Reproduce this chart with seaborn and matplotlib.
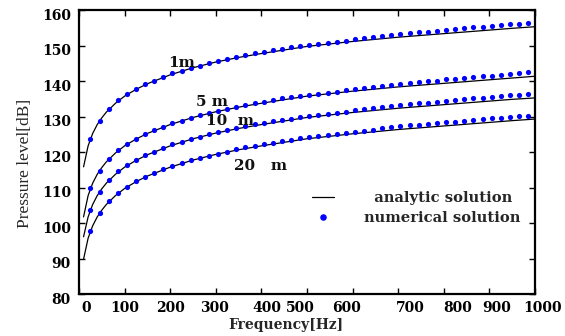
import numpy as np
import pandas as pd
import matplotlib
matplotlib.use("Agg")
import matplotlib.pyplot as plt
from matplotlib.lines import Line2D
from matplotlib.transforms import offset_copy
import seaborn as sns

# ---- data ----
freq_dots = list(range(25, 1000, 20))  # 25, 45, ..., 985
num_1m = [123.7, 128.8, 132.2, 134.6, 136.3, 137.8, 139.1, 140.2, 141.2, 142.2, 142.9, 143.7, 144.4, 145.0,
          145.6, 146.2, 146.9, 147.4, 147.9, 148.2, 148.7, 149.2, 149.5, 149.9, 150.2, 150.5, 150.8, 151.1,
          151.4, 151.8, 152.1, 152.4, 152.7, 153.0, 153.3, 153.6, 153.8, 154.0, 154.2, 154.5, 154.6, 154.9,
          155.2, 155.4, 155.6, 155.7, 156.0, 156.2, 156.5]
num_5m = [109.8, 114.8, 118.2, 120.5, 122.3, 123.8, 125.1, 126.2, 127.2, 128.2, 128.9, 129.7, 130.4, 131.0,
          131.6, 132.2, 132.8, 133.4, 133.9, 134.2, 134.7, 135.2, 135.5, 135.9, 136.2, 136.5, 136.8, 137.1,
          137.4, 137.8, 138.1, 138.4, 138.7, 139.0, 139.3, 139.6, 139.8, 140.0, 140.2, 140.5, 140.6, 140.9,
          141.2, 141.4, 141.6, 141.7, 142.0, 142.2, 142.5]
num_10m = [103.7, 108.8, 112.2, 114.6, 116.3, 117.8, 119.1, 120.2, 121.2, 122.2, 122.9, 123.7, 124.4, 125.0,
           125.6, 126.2, 126.9, 127.4, 127.9, 128.2, 128.7, 129.2, 129.5, 129.9, 130.2, 130.5, 130.8, 131.1,
           131.4, 131.8, 132.1, 132.4, 132.7, 133.0, 133.3, 133.6, 133.8, 134.0, 134.2, 134.5, 134.6, 134.9,
           135.2, 135.4, 135.6, 135.7, 136.0, 136.2, 136.4]
num_20m = [97.9, 102.9, 106.2, 108.6, 110.3, 111.8, 113.1, 114.2, 115.2, 116.2, 116.9, 117.7, 118.4, 119.0,
           119.6, 120.2, 120.9, 121.4, 121.9, 122.2, 122.7, 123.2, 123.5, 123.9, 124.2, 124.5, 124.8, 125.1,
           125.4, 125.8, 126.1, 126.4, 126.7, 127.0, 127.3, 127.6, 127.8, 128.0, 128.2, 128.5, 128.6, 128.9,
           129.2, 129.4, 129.6, 129.7, 130.0, 130.1, 130.3]

freq_line = [10, 20, 30, 40, 50, 60, 80, 100, 125, 150, 200, 250, 300, 350, 400, 450, 500, 550, 600, 650,
             700, 750, 800, 850, 900, 950, 1000]
ana_1m = [115.9, 121.8, 125.3, 127.8, 129.7, 131.3, 133.8, 135.8, 137.7, 139.3, 141.8, 143.8, 145.4, 146.7,
          147.8, 148.8, 149.8, 150.5, 151.2, 151.8, 152.4, 152.9, 153.4, 153.9, 154.4, 154.9, 155.35]
ana_5m = [101.8, 107.8, 111.3, 113.8, 115.7, 117.3, 119.8, 121.8, 123.7, 125.3, 127.8, 129.8, 131.4, 132.7,
          133.8, 134.8, 135.8, 136.5, 137.2, 137.8, 138.4, 138.9, 139.4, 139.9, 140.4, 140.9, 141.4]
ana_10m = [96.2, 101.8, 105.3, 107.8, 109.7, 111.3, 113.8, 115.8, 117.7, 119.3, 121.8, 123.8, 125.4, 126.7,
           127.8, 128.8, 129.8, 130.5, 131.2, 131.8, 132.4, 132.9, 133.4, 133.9, 134.4, 134.9, 135.3]
ana_20m = [89.9, 95.8, 99.3, 101.8, 103.7, 105.3, 107.8, 109.8, 111.7, 113.3, 115.8, 117.8, 119.4, 120.7,
           121.8, 122.8, 123.8, 124.5, 125.2, 125.8, 126.4, 126.9, 127.4, 127.9, 128.4, 128.9, 129.35]

distances = ["1m", "5m", "10m", "20m"]
curve_labels = ["1m", "5 m", "10  m", "20   m"]
label_pos_f = [224, 292, 331, 398]
label_pos_v = [145.1, 134.1, 128.8, 116.2]

x_ticks = [0, 100, 200, 300, 400, 500, 600, 700, 800, 900, 1000]
x_tick_labels = ["0", "100", "200", "300", "400", "500", "600", "700", "800", "900", "1000"]
x_label_shift_px = [7, 0, 0, -1, 5, -7, -6, 12, 14, 7, 8]   # irregular label placement in the original
y_ticks = [80, 90, 100, 110, 120, 130, 140, 150, 160]
y_tick_labels = ["80", "90", "100", "110", "120", "130", "140", "150", "160"]

# ---- long-form tables ----
dots = pd.concat([pd.DataFrame({"f": freq_dots, "p": v, "d": d})
                  for d, v in zip(distances, [num_1m, num_5m, num_10m, num_20m])])
lines = pd.concat([pd.DataFrame({"f": freq_line, "p": v, "d": d})
                   for d, v in zip(distances, [ana_1m, ana_5m, ana_10m, ana_20m])])

sns.set_theme(style="ticks")
plt.rcParams["font.family"] = ["DejaVu Serif"]

fig = plt.figure(figsize=(5.65, 3.36), dpi=100)
ax = fig.add_axes([79 / 565, 1 - 294.3 / 336, (535 - 79) / 565, (294.3 - 10.2) / 336])

sns.lineplot(data=lines, x="f", y="p", units="d", estimator=None, color="black",
             linewidth=0.9, ax=ax, legend=False, sort=True)
sns.scatterplot(data=dots, x="f", y="p", color="#0000ff", s=14, linewidth=0,
                ax=ax, legend=False, zorder=3)

for t, fx, vy in zip(curve_labels, label_pos_f, label_pos_v):
    ax.text(fx, vy, t, ha="center", va="center", fontsize=11, fontweight="bold", color="#111111")

ax.set_xlim(0, 1000)
ax.set_ylim(80, 160)
ax.set_xticks(x_ticks)
ax.set_yticks(y_ticks)
ax.tick_params(direction="in", length=4, width=1, top=True, right=True,
               labelbottom=False, labelleft=False, colors="black")
for sp in ax.spines.values():
    sp.set_visible(True)
    sp.set_linewidth(1.6)
    sp.set_color("black")

# tick labels drawn as text, matching the original's offsets
xt = ax.get_xaxis_transform()
for v, lab, dx in zip(x_ticks, x_tick_labels, x_label_shift_px):
    ax.text(v, 0, lab, transform=offset_copy(xt, fig=fig, x=dx, y=-14, units="dots"),
            ha="center", va="center", fontsize=10, fontweight="bold", color="black")
yt = ax.get_yaxis_transform()
for v, lab in zip(y_ticks, y_tick_labels):
    ax.text(0, v, lab, transform=offset_copy(yt, fig=fig, x=-8, y=-5.5, units="dots"),
            ha="right", va="center", fontsize=10, fontweight="bold", color="black")

ax.set_xlabel("Frequency[Hz]", fontsize=10, fontweight="bold")
ax.xaxis.set_label_coords(0.453, -0.084)
ax.set_ylabel("Pressure level[dB]", fontsize=12.5, family=["Liberation Serif"])
ax.yaxis.set_label_coords(-0.101, 0.46)

handles = [Line2D([], [], color="black", linewidth=0.9),
           Line2D([], [], marker="o", linestyle="", color="#0000ff", markersize=3.7)]
ax.legend(handles, ["  analytic solution", "numerical solution"], loc="upper left",
          bbox_to_anchor=(0.498, 0.385), borderaxespad=0, frameon=False,
          prop={"size": 10.6, "weight": "bold", "family": "DejaVu Serif"},
          handlelength=1.5, handletextpad=2.0, labelspacing=0.4)

fig.savefig("out.png", dpi=100)
